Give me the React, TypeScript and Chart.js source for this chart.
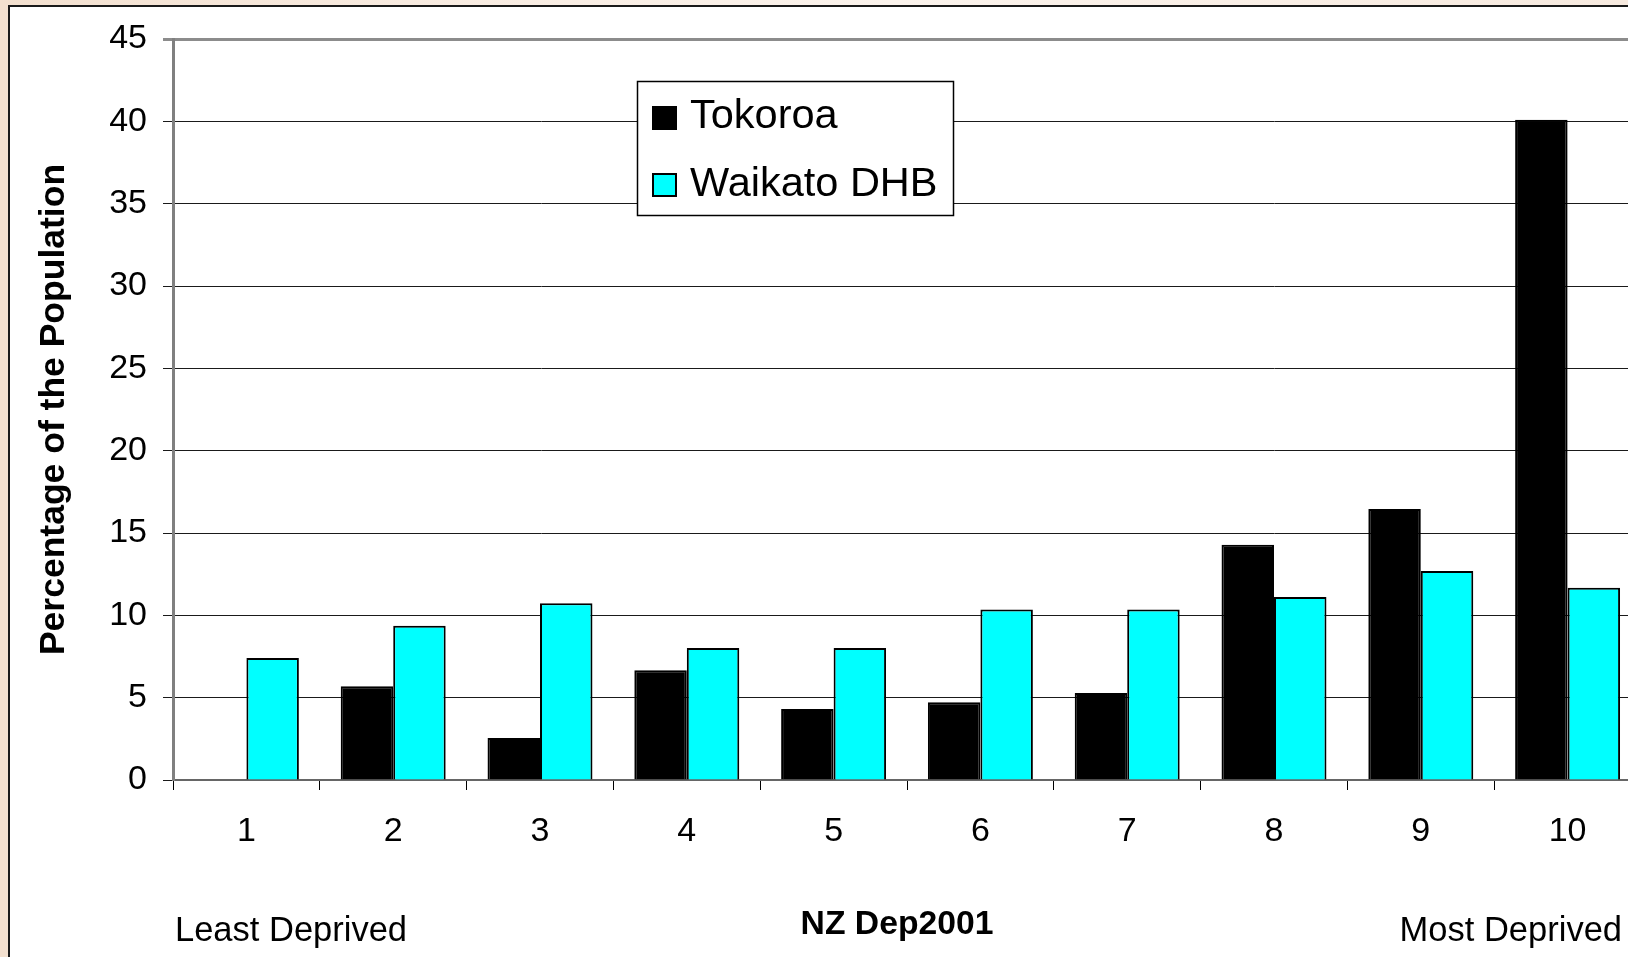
import React, { useEffect, useRef } from "react";
import { Chart, registerables } from "chart.js";

Chart.register(...registerables);

const categories = ["1", "2", "3", "4", "5", "6", "7", "8", "9", "10"];
const tokoroa = [0, 5.69, 2.55, 6.66, 4.31, 4.72, 5.28, 14.29, 16.46, 40.1];
const waikato = [7.41, 9.37, 10.73, 8.02, 8.02, 10.36, 10.36, 11.11, 12.69, 11.68];
const seriesNames = ["Tokoroa", "Waikato DHB"];
const seriesColors = ["#000000", "#00FFFF"];
const yTickValues = [0, 5, 10, 15, 20, 25, 30, 35, 40, 45];
const yTitle = "Percentage of the Population";
const xTitle = "NZ Dep2001";
const leftNote = "Least Deprived";
const rightNote = "Most Deprived";

const FONT = '"Liberation Sans", Arial, Helvetica, sans-serif';

const annotations = {
  id: "annotations",
  afterDatasetsDraw(chart: any) {
    const { ctx, chartArea: a } = chart;
    ctx.save();
    const lx = a.left + 464;
    const ly = a.top + 42;
    const lw = 316;
    const lh = 134;
    ctx.fillStyle = "#ffffff";
    ctx.fillRect(lx, ly, lw, lh);
    ctx.strokeStyle = "#000000";
    ctx.lineWidth = 1.5;
    ctx.strokeRect(lx + 0.5, ly + 0.5, lw, lh);
    chart.data.datasets.forEach((ds: any, i: number) => {
      const sy = ly + 25 + i * 67;
      ctx.fillStyle = ds.backgroundColor;
      ctx.fillRect(lx + 15, sy, 25, 24);
      ctx.lineWidth = 2;
      ctx.strokeStyle = "#000000";
      ctx.strokeRect(lx + 16, sy + 1, 23, 22);
      ctx.fillStyle = "#000000";
      ctx.font = `41.5px ${FONT}`;
      ctx.textAlign = "left";
      ctx.textBaseline = "alphabetic";
      ctx.fillText(ds.label, lx + 53, ly + 47 + i * 68);
    });
    ctx.restore();
  },
  afterDraw(chart: any) {
    const { ctx, chartArea: a } = chart;
    ctx.save();
    ctx.fillStyle = "#000000";
    ctx.textBaseline = "alphabetic";
    ctx.font = `34.5px ${FONT}`;
    ctx.textAlign = "left";
    ctx.fillText(leftNote, a.left + 2, a.bottom + 161);
    ctx.textAlign = "right";
    ctx.fillText(rightNote, a.right - 19, a.bottom + 161);
    ctx.font = `bold 33.7px ${FONT}`;
    ctx.textAlign = "center";
    ctx.fillText(xTitle, a.left + 724, a.bottom + 154);
    ctx.restore();
  },
};

export default function App() {
  const ref = useRef<HTMLCanvasElement | null>(null);

  useEffect(() => {
    if (!ref.current) return;
    const chart = new Chart(ref.current, {
      type: "bar",
      data: {
        labels: categories,
        datasets: [
          {
            label: seriesNames[0],
            data: tokoroa,
            backgroundColor: seriesColors[0],
            borderColor: "#000000",
            borderWidth: 2,
          },
          {
            label: seriesNames[1],
            data: waikato,
            backgroundColor: seriesColors[1],
            borderColor: "#000000",
            borderWidth: 2,
          },
        ],
      },
      options: {
        responsive: false,
        animation: false,
        devicePixelRatio: 1,
        layout: { padding: { left: 0, top: 39, right: 19, bottom: 0 } },
        datasets: { bar: { categoryPercentage: 0.715, barPercentage: 1.0 } },
        plugins: { legend: { display: false }, tooltip: { enabled: false } },
        scales: {
          x: {
            afterFit: (s: any) => {
              s.height = 177;
            },
            grid: {
              offset: true,
              drawOnChartArea: false,
              drawTicks: true,
              tickLength: 10,
              color: "#000000",
              lineWidth: 1,
            },
            border: { display: true, color: "#666666", width: 2 },
            ticks: {
              color: "#000000",
              font: { family: FONT, size: 34 },
              padding: 21,
              maxRotation: 0,
              autoSkip: false,
            },
          },
          y: {
            min: 0,
            max: 45,
            afterFit: (s: any) => {
              s.width = 173;
            },
            afterBuildTicks: (s: any) => {
              s.ticks = yTickValues.map((v) => ({ value: v }));
            },
            ticks: {
              color: "#000000",
              font: { family: FONT, size: 34 },
              padding: 16,
            },
            grid: {
              color: (c: any) => (c.tick && c.tick.value === 45 ? "#8c8c8c" : "#1a1a1a"),
              lineWidth: (c: any) => (c.tick && c.tick.value === 45 ? 3 : 1),
              tickLength: 10,
            },
            border: { display: true, color: "#808080", width: 3 },
            title: {
              display: true,
              text: yTitle,
              color: "#000000",
              font: { family: FONT, size: 35.5, weight: "bold" },
              padding: { top: 33, bottom: 0 },
            },
          },
        },
      },
      plugins: [annotations],
    });
    return () => chart.destroy();
  }, []);

  return (
    <div
      style={{
        position: "fixed",
        left: 0,
        top: 0,
        width: 1628,
        height: 957,
        overflow: "hidden",
        background:
          "linear-gradient(90deg, #f3e0cf 0%, #f8ebe0 25%, #fbf3ec 55%, #f7eadf 100%)",
      }}
    >
      <div
        style={{
          position: "absolute",
          left: 8,
          top: 5,
          width: 1700,
          height: 1000,
          background: "#ffffff",
          borderLeft: "2px solid #1a1a1a",
          borderTop: "2px solid #1a1a1a",
        }}
      />
      <canvas
        ref={ref}
        width={1660}
        height={957}
        style={{ position: "absolute", left: 0, top: 0, display: "block" }}
      />
    </div>
  );
}
